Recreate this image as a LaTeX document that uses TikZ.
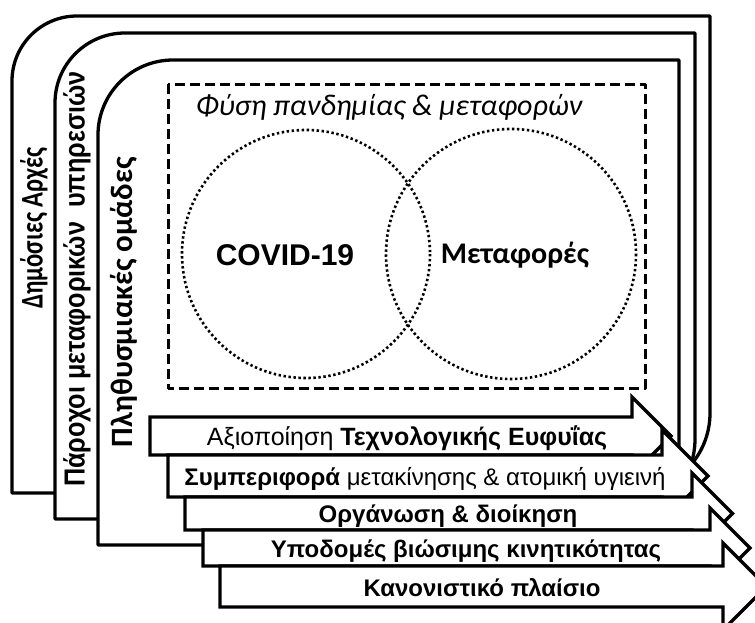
\documentclass[tikz,border=0pt]{standalone}
\usepackage{fontspec}
\setmainfont{Liberation Sans}
\newfontfamily\calibri{Carlito}
\newfontfamily\stenos[FakeStretch=0.78]{Carlito}
\newfontfamily\stenoarial[FakeStretch=0.87]{Liberation Sans}
\begin{document}
\begin{tikzpicture}[x=1pt,y=-1pt,line join=round,
		plaisio/.style={draw,line width=3.3pt,fill=white},
		velos/.style={draw,line width=3.3pt,fill=white,line join=miter},
		kyklos/.style={draw,line width=2.6pt,dash pattern=on 2.4pt off 2.6pt},
		keimeno/.style={inner sep=0pt,anchor=base}]
	\def\grammata{\fontsize{24}{28}\selectfont}
	\def\megala{\fontsize{30}{34}\selectfont}
	\useasboundingbox (0,0) rectangle (755,622);
	\clip (0,0) rectangle (755,622);
	% ta tria plaisia
	\draw[plaisio] (12,493)--(12,81) arc[start angle=180,end angle=270,radius=65]
		--(710,16)--(710,413) arc[start angle=0,end angle=90,radius=80]--cycle;
	\draw[plaisio] (55,519)--(55,103) arc[start angle=180,end angle=270,radius=70]
		--(695,33)--(695,439) arc[start angle=0,end angle=90,radius=80]--cycle;
	\draw[plaisio] (98,545)--(98,135) arc[start angle=180,end angle=270,radius=75]
		--(679,60)--(679,465) arc[start angle=0,end angle=90,radius=80]--cycle;
	\node[rotate=90,inner sep=0pt] (dimosies) at (34,228) {\stenos\fontsize{31.5}{34}\selectfont\bfseries Δημόσιες Αρχές};
	\node[rotate=90,inner sep=0pt] (paroxoi) at (77,279) {\stenoarial\fontsize{29}{32}\selectfont\bfseries Πάροχοι μεταφορικών\ \ υπηρεσιών};
	\node[rotate=90,inner sep=0pt] (plithysmos) at (124,302) {\calibri\fontsize{31}{34}\selectfont\bfseries Πληθυσμιακές ομάδες};
	% to plaisio me tous kyklous
	\draw[line width=3pt,dash pattern=on 10pt off 5pt] (168,84) rectangle (645,388);
	\node[inner sep=0pt] (fysi) at (389,107) {\calibri\fontsize{30}{33}\selectfont\itshape Φύση πανδημίας \& μεταφορών};
	\path (306,254) coordinate (K1)
		(511,254) coordinate (K2);
	\draw[kyklos] (K1) circle[radius=124];
	\draw[kyklos] (K2) circle[radius=125];
	\node[inner sep=0pt] (covid) at (285,255) {\megala\bfseries COVID-19};
	\node[inner sep=0pt] (metafores) at (515,255) {\calibri\fontsize{30}{34}\selectfont\bfseries Μεταφορές};
	% ta pente velh
	\draw[velos] (150,417)--(632,417)--(632,397)--(671,436)--(632,475)--(632,455)--(150,455)--cycle;
	\node[keimeno] (a1) at (407,445) {\fontsize{25}{28}\selectfont Αξιοποίηση \textbf{Τεχνολογικής Ευφυΐας}};
	\draw[velos] (168,455)--(662,455)--(662,430)--(708,476)--(662,522)--(662,497)--(168,497)--cycle;
	\node[keimeno] (a2) at (425,485) {\grammata\textbf{Συμπεριφορά} μετακίνησης \& ατομική υγιεινή};
	\draw[velos] (185,497)--(692,497)--(692,473)--(732.5,513.5)--(692,554)--(692,530)--(185,530)--cycle;
	\node[keimeno] (a3) at (448,522) {\grammata\bfseries Οργάνωση \& διοίκηση};
	\draw[velos] (203,530)--(710,530)--(710,508)--(750,548)--(710,588)--(710,566)--(203,566)--cycle;
	\node[keimeno] (a4) at (466,557) {\grammata\bfseries Υποδομές βιώσιμης κινητικότητας};
	\draw[velos] (220,566)--(723,566)--(723,543)--(766.5,586.5)--(723,630)--(723,607)--(220,607)--cycle;
	\node[keimeno] (a5) at (482,596) {\grammata\bfseries Κανονιστικό πλαίσιο};
\end{tikzpicture}
\end{document}
